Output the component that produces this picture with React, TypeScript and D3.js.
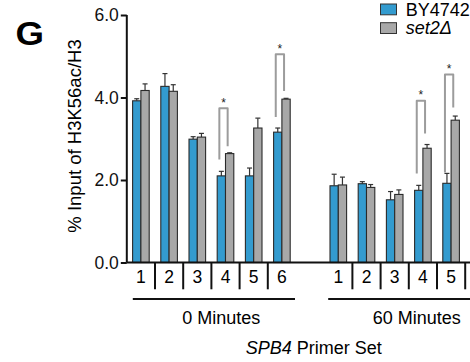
import React, { useRef, useEffect } from 'react';
import * as d3 from 'd3';

// primer sets per time point
const primers0 = ['1', '2', '3', '4', '5', '6'];
const primers60 = ['1', '2', '3', '4', '5'];

// BY4742 (wild type)
const wtMean0 = [3.92, 4.27, 2.99, 2.1, 2.1, 3.16];
const wtErr0 = [0.05, 0.31, 0.06, 0.11, 0.19, 0.1];
const wtMean60 = [1.86, 1.91, 1.52, 1.75, 1.92];
const wtErr60 = [0.28, 0.05, 0.2, 0.12, 0.24];

// set2 delta
const setMean0 = [4.17, 4.15, 3.04, 2.64, 3.26, 3.96];
const setErr0 = [0.16, 0.16, 0.09, 0.02, 0.24, 0.02];
const setMean60 = [1.88, 1.82, 1.65, 2.77, 3.45];
const setErr60 = [0.19, 0.07, 0.11, 0.09, 0.1];

// significance brackets: primer, bracket top, left leg end, right leg end
const sig0 = [
  { primer: '4', top: 3.74, left: 2.5, right: 2.82 },
  { primer: '6', top: 5.05, left: 3.53, right: 4.16 },
];
const sig60 = [
  { primer: '4', top: 3.92, left: 2.16, right: 3.13 },
  { primer: '5', top: 4.56, left: 2.18, right: 3.76 },
];

const yTicks = [0, 2, 4, 6];
const timeLabels = ['0 Minutes', '60 Minutes'];

const BLUE = '#339bcf';
const GRAY = '#a8a8a8';
const FONT = 'Liberation Sans, Arial, sans-serif';

function App() {
  const ref = useRef<SVGSVGElement>(null);

  useEffect(() => {
    const svg = d3.select(ref.current);
    svg.selectAll('*').remove();

    const slots = [
      ...primers0.map(p => '0-' + p),
      'gap',
      ...primers60.map(p => '60-' + p),
    ];
    const x = d3.scaleBand().domain(slots).range([126.8, 465.2]).padding(0);
    const y = d3.scaleLinear().domain([0, 6]).range([262.5, 15]);
    const bw = 8.3;

    const rows = [
      ...primers0.map((p, i) => ({ key: '0-' + p, label: p, wt: wtMean0[i], wtE: wtErr0[i], st: setMean0[i], stE: setErr0[i] })),
      ...primers60.map((p, i) => ({ key: '60-' + p, label: p, wt: wtMean60[i], wtE: wtErr60[i], st: setMean60[i], stE: setErr60[i] })),
    ];
    const cx = (k: string) => (x(k) as number) + x.bandwidth() / 2;

    // error bars (upward only)
    const err = svg.append('g').attr('stroke', '#333').attr('stroke-width', 1.2);
    rows.forEach(d => {
      [[cx(d.key) - bw / 2, d.wt, d.wtE], [cx(d.key) + bw / 2, d.st, d.stE]].forEach(([xc, m, e]) => {
        err.append('line').attr('x1', xc).attr('x2', xc).attr('y1', y(m)).attr('y2', y(m + e));
        err.append('line').attr('x1', xc - 2.5).attr('x2', xc + 2.5).attr('y1', y(m + e)).attr('y2', y(m + e));
      });
    });

    // bars
    const bars = svg.append('g').attr('stroke', '#2a2a2a').attr('stroke-width', 1.1);
    bars.selectAll('rect.wt')
      .data(rows)
      .enter().append('rect')
      .attr('x', d => cx(d.key) - bw)
      .attr('y', d => y(d.wt))
      .attr('width', bw)
      .attr('height', d => y(0) - y(d.wt))
      .attr('fill', BLUE);
    bars.selectAll('rect.st')
      .data(rows)
      .enter().append('rect')
      .attr('x', d => cx(d.key))
      .attr('y', d => y(d.st))
      .attr('width', bw)
      .attr('height', d => y(0) - y(d.st))
      .attr('fill', GRAY);

    // significance brackets
    const sig = [...sig0.map(s => ({ ...s, key: '0-' + s.primer })), ...sig60.map(s => ({ ...s, key: '60-' + s.primer }))];
    sig.forEach(s => {
      const xl = cx(s.key) - bw / 2 - 2;
      const xr = cx(s.key) + bw / 2 - 2;
      svg.append('path')
        .attr('d', `M${xl},${y(s.left)}V${y(s.top)}H${xr}V${y(s.right)}`)
        .attr('fill', 'none')
        .attr('stroke', '#9c9c9c')
        .attr('stroke-width', 2)
        .attr('stroke-linejoin', 'round');
      svg.append('text')
        .attr('x', (xl + xr) / 2)
        .attr('y', y(s.top) - 1.5)
        .attr('text-anchor', 'middle')
        .attr('font-family', FONT)
        .attr('font-size', 12)
        .attr('fill', '#222')
        .text('*');
    });

    // y axis
    const yAxis = svg.append('g')
      .attr('transform', 'translate(126.8,0)')
      .call(d3.axisLeft(y).tickValues(yTicks).tickFormat(d3.format('.1f')).tickSize(6).tickPadding(2));
    yAxis.select('.domain').attr('d', `M0,${y(6)}V${y(0)}`).attr('stroke', '#111').attr('stroke-width', 2);
    yAxis.selectAll('.tick line').attr('stroke', '#111').attr('stroke-width', 2);
    yAxis.selectAll('.tick text').attr('font-family', FONT).attr('font-size', 17.5).attr('fill', '#111');

    // x axis baseline and primer dividers
    svg.append('line')
      .attr('x1', 126.8).attr('x2', 470).attr('y1', y(0)).attr('y2', y(0))
      .attr('stroke', '#111').attr('stroke-width', 2);
    slots.forEach((k, i) => {
      if (i === 0 || k === 'gap' || slots[i - 1] === 'gap') return;
      svg.append('line')
        .attr('x1', x(k) as number).attr('x2', x(k) as number)
        .attr('y1', y(0)).attr('y2', 289.3)
        .attr('stroke', '#111').attr('stroke-width', 2);
    });
    svg.append('line')
      .attr('x1', 465.2).attr('x2', 465.2).attr('y1', y(0)).attr('y2', 289.3)
      .attr('stroke', '#111').attr('stroke-width', 2);
    svg.selectAll('text.prim')
      .data(rows)
      .enter().append('text')
      .attr('x', d => cx(d.key))
      .attr('y', 283)
      .attr('text-anchor', 'middle')
      .attr('font-family', FONT)
      .attr('font-size', 17.5)
      .text(d => d.label);

    // time-point group lines and labels
    const groups = [
      { x1: (x('0-1') as number) + 6, x2: (x('0-6') as number) + x.bandwidth() - 1, tx: 221.3 },
      { x1: (x('60-1') as number) + 4, x2: 470, tx: 416.7 },
    ];
    groups.forEach((g, i) => {
      svg.append('line')
        .attr('x1', g.x1).attr('x2', g.x2).attr('y1', 299).attr('y2', 299)
        .attr('stroke', '#111').attr('stroke-width', 2);
      svg.append('text')
        .attr('x', g.tx).attr('y', 323.5)
        .attr('text-anchor', 'middle')
        .attr('font-family', FONT)
        .attr('font-size', 18)
        .text(timeLabels[i]);
    });

    const xTitle = svg.append('text')
      .attr('x', 313.8).attr('y', 354)
      .attr('text-anchor', 'middle')
      .attr('font-family', FONT)
      .attr('font-size', 18);
    xTitle.append('tspan').attr('font-style', 'italic').text('SPB4');
    xTitle.append('tspan').text(' Primer Set');

    // y title
    svg.append('text')
      .attr('transform', 'translate(81,136) rotate(-90)')
      .attr('text-anchor', 'middle')
      .attr('font-family', FONT)
      .attr('font-size', 18.5)
      .text('% Input of H3K56ac/H3');

    // panel letter
    svg.append('text')
      .attr('x', 15.5).attr('y', 44.5)
      .attr('font-family', FONT)
      .attr('font-weight', 'bold')
      .attr('font-size', 33)
      .attr('textLength', 28.5)
      .attr('lengthAdjust', 'spacingAndGlyphs')
      .text('G');

    // legend
    const legend = [
      { name: 'BY4742', color: BLUE, italic: false },
      { name: 'set2\u0394', color: GRAY, italic: true },
    ];
    legend.forEach((l, i) => {
      const ly = 4 + i * 18.7;
      svg.append('rect')
        .attr('x', 380.5).attr('y', ly).attr('width', 16).attr('height', 10.8)
        .attr('fill', l.color).attr('stroke', '#333').attr('stroke-width', 1);
      svg.append('text')
        .attr('x', 405.7).attr('y', ly + 11.5)
        .attr('font-family', FONT)
        .attr('font-size', 18)
        .attr('font-style', l.italic ? 'italic' : 'normal')
        .text(l.name);
    });
  }, []);

  return (
    <svg ref={ref} width={470} height={362} style={{ position: 'absolute', left: 0, top: 0, background: '#fff' }}></svg>
  );
}

export default App;
